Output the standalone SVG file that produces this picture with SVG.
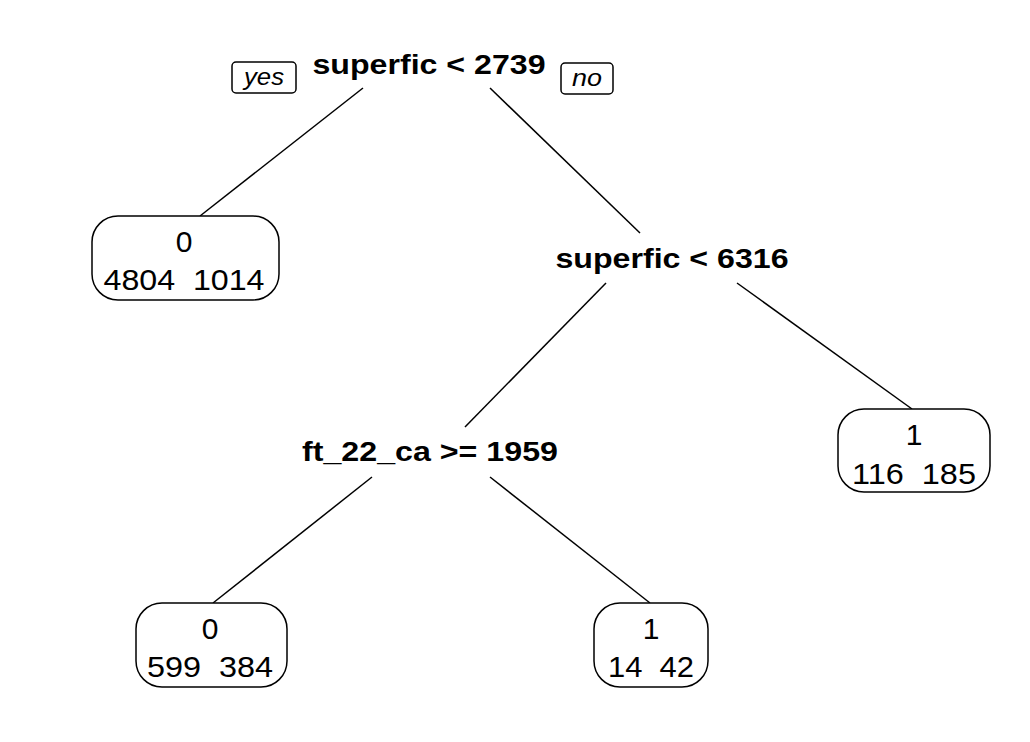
<svg xmlns="http://www.w3.org/2000/svg" width="1030" height="742" viewBox="0 0 1030 742">
<style>
.split{font-family:"Liberation Sans",Arial,sans-serif;font-weight:bold;font-size:28px;text-anchor:middle;fill:#000}
.leaf{font-family:"Liberation Sans",Arial,sans-serif;font-size:30px;text-anchor:middle;fill:#000}
.lab{font-family:"Liberation Sans",Arial,sans-serif;font-style:italic;font-size:23px;text-anchor:middle;fill:#000}
.box{fill:#fff;stroke:#000;stroke-width:1.5}
.edge{stroke:#000;stroke-width:1.5;fill:none}
</style>
<rect width="1030" height="742" fill="#fff"/>
<g id="connectors">
<line class="edge" x1="363" y1="88" x2="200" y2="216"/>
<line class="edge" x1="490" y1="88" x2="640" y2="233"/>
<line class="edge" x1="606" y1="283" x2="465" y2="427"/>
<line class="edge" x1="737" y1="283" x2="912" y2="409"/>
<line class="edge" x1="372" y1="477" x2="213" y2="603"/>
<line class="edge" x1="490" y1="477" x2="650" y2="603"/>
</g>
<g id="node-root">
<text class="split" x="429" y="74" textLength="233" lengthAdjust="spacingAndGlyphs">superfic &lt; 2739</text>
</g>
<g id="label-yes">
<rect class="box" x="232" y="62" width="64" height="31" rx="4"/>
<text class="lab" x="264" y="85" textLength="40" lengthAdjust="spacingAndGlyphs">yes</text>
</g>
<g id="label-no">
<rect class="box" x="561" y="63" width="52" height="31" rx="4"/>
<text class="lab" x="587" y="86" textLength="30" lengthAdjust="spacingAndGlyphs">no</text>
</g>
<g id="leaf-1">
<rect class="box" x="92" y="216" width="187" height="84" rx="26"/>
<text class="leaf" x="184" y="252">0</text>
<text class="leaf" x="184" y="290" xml:space="preserve" textLength="161" lengthAdjust="spacingAndGlyphs">4804  1014</text>
</g>
<g id="node-2">
<text class="split" x="672" y="268" textLength="233" lengthAdjust="spacingAndGlyphs">superfic &lt; 6316</text>
</g>
<g id="leaf-2">
<rect class="box" x="838" y="409" width="152" height="83" rx="26"/>
<text class="leaf" x="914" y="445">1</text>
<text class="leaf" x="914" y="484" xml:space="preserve" textLength="124" lengthAdjust="spacingAndGlyphs">116  185</text>
</g>
<g id="node-3">
<text class="split" x="430" y="461" textLength="256" lengthAdjust="spacingAndGlyphs">ft_22_ca &gt;= 1959</text>
</g>
<g id="leaf-3">
<rect class="box" x="136" y="603" width="151" height="84" rx="26"/>
<text class="leaf" x="210" y="639">0</text>
<text class="leaf" x="210" y="677" xml:space="preserve" textLength="126" lengthAdjust="spacingAndGlyphs">599  384</text>
</g>
<g id="leaf-4">
<rect class="box" x="594" y="603" width="114" height="84" rx="26"/>
<text class="leaf" x="651" y="639">1</text>
<text class="leaf" x="651" y="677" xml:space="preserve" textLength="86" lengthAdjust="spacingAndGlyphs">14  42</text>
</g>
</svg>
